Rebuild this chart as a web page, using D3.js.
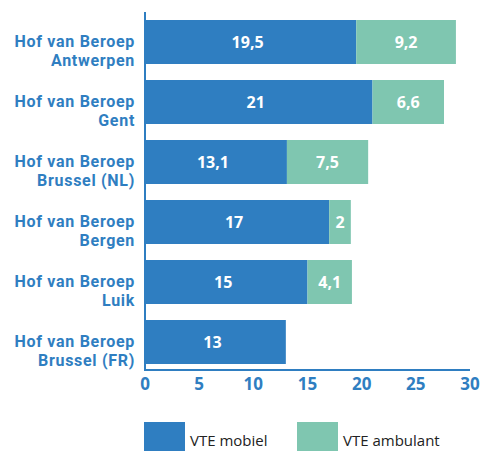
<!DOCTYPE html>
<html>
<head>
<meta charset="utf-8">
<script src="https://cdn.jsdelivr.net/npm/d3@7"></script>
<style>
body { margin: 0; background: #fff; }
svg { font-family: "Open Sans", sans-serif; }
</style>
</head>
<body>
<div id="chart"></div>
<script>
var courts = [
    ["Hof van Beroep", "Antwerpen"],
    ["Hof van Beroep", "Gent"],
    ["Hof van Beroep", "Brussel (NL)"],
    ["Hof van Beroep", "Bergen"],
    ["Hof van Beroep", "Luik"],
    ["Hof van Beroep", "Brussel (FR)"]
];
var mobiel = [19.5, 21, 13.1, 17, 15, 13];
var ambulant = [9.2, 6.6, 7.5, 2, 4.1, 0];
var seriesNames = ["VTE mobiel", "VTE ambulant"];
var xTicks = [0, 5, 10, 15, 20, 25, 30];

var blue = "#2f7ec1", green = "#7fc6b0";
var width = 482, height = 451;

var svg = d3.select("#chart").append("svg")
    .attr("width", width)
    .attr("height", height);

var x = d3.scaleLinear().domain([0, 30]).range([145, 470]);
// step 60, bar 44, first bar top at 20
var y = d3.scaleBand().domain(d3.range(courts.length)).range([2, 382]).paddingInner(16 / 60).paddingOuter(0.3);

var fmt = function (v) { return String(v).replace(".", ","); };

var rows = svg.selectAll(".row")
    .data(courts)
    .enter().append("g")
    .attr("class", "row");

// mobiel segment
rows.append("rect")
    .attr("x", x(0))
    .attr("y", function (d, i) { return y(i); })
    .attr("width", function (d, i) { return x(mobiel[i]) - x(0); })
    .attr("height", y.bandwidth())
    .style("fill", blue);

// ambulant segment
rows.filter(function (d, i) { return ambulant[i] > 0; })
    .append("rect")
    .attr("x", function (d) { return x(mobiel[courts.indexOf(d)]); })
    .attr("y", function (d) { return y(courts.indexOf(d)); })
    .attr("width", function (d) { var i = courts.indexOf(d); return x(mobiel[i] + ambulant[i]) - x(mobiel[i]); })
    .attr("height", y.bandwidth())
    .style("fill", green);

// value labels
rows.append("text")
    .attr("x", function (d, i) { return (x(0) + x(mobiel[i])) / 2 - 3; })
    .attr("y", function (d, i) { return y(i) + y.bandwidth() / 2; })
    .attr("dy", "0.36em")
    .style("text-anchor", "middle")
    .style("fill", "#fff")
    .style("font-weight", "bold")
    .style("font-size", "16px")
    .text(function (d, i) { return fmt(mobiel[i]); });

rows.filter(function (d, i) { return ambulant[i] > 0; })
    .append("text")
    .attr("x", function (d) { var i = courts.indexOf(d); return (x(mobiel[i]) + x(mobiel[i] + ambulant[i])) / 2; })
    .attr("y", function (d) { return y(courts.indexOf(d)) + y.bandwidth() / 2; })
    .attr("dy", "0.36em")
    .style("text-anchor", "middle")
    .style("fill", "#fff")
    .style("font-weight", "bold")
    .style("font-size", "16px")
    .text(function (d) { return fmt(ambulant[courts.indexOf(d)]); });

// category labels (two lines each)
rows.append("text")
    .attr("x", 135)
    .attr("y", function (d, i) { return y(i) + 27; })
    .style("text-anchor", "end")
    .style("fill", blue)
    .style("font-weight", "bold")
    .style("font-size", "16px")
    .style("letter-spacing", "0.7px")
    .style("font-family", "Roboto, sans-serif")
    .selectAll("tspan")
    .data(function (d) { return d; })
    .enter().append("tspan")
    .attr("x", 135)
    .attr("dy", function (d, i) { return i === 0 ? 0 : 19; })
    .text(function (d) { return d; });

// axes
svg.append("line")
    .attr("x1", x(0)).attr("x2", x(0))
    .attr("y1", 12).attr("y2", 371)
    .style("stroke", blue).style("stroke-width", 2);
svg.append("line")
    .attr("x1", x(0) - 1).attr("x2", x(30))
    .attr("y1", 370).attr("y2", 370)
    .style("stroke", blue).style("stroke-width", 2);

svg.selectAll(".xLabel")
    .data(xTicks)
    .enter().append("text")
    .attr("x", function (d) { return x(d); })
    .attr("y", 390)
    .style("text-anchor", "middle")
    .style("fill", blue)
    .style("font-weight", "bold")
    .style("font-size", "17px")
    .text(function (d) { return d; });

// legend
var legend = svg.selectAll(".legend")
    .data(seriesNames)
    .enter().append("g")
    .attr("transform", function (d, i) { return "translate(" + (144 + i * 153) + ",422)"; });
legend.append("rect")
    .attr("width", 41).attr("height", 29)
    .style("fill", function (d, i) { return i === 0 ? blue : green; });
legend.append("text")
    .attr("x", 46).attr("y", 24)
    .style("fill", "#222")
    .style("font-size", "15px")
    .text(function (d) { return d; });
</script>
</body>
</html>
